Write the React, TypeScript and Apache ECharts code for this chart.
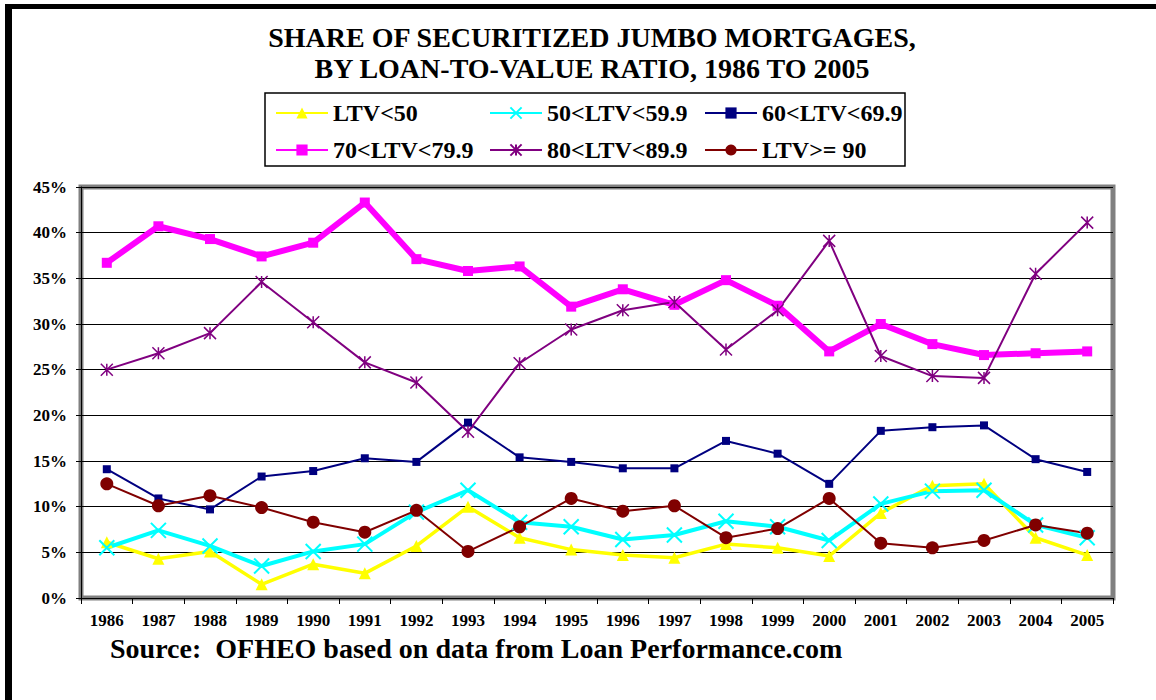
import React, { useEffect, useRef } from "react";
import * as echarts from "echarts";

const years = ["1986","1987","1988","1989","1990","1991","1992","1993","1994","1995","1996","1997","1998","1999","2000","2001","2002","2003","2004","2005"];

const ltvUnder50 = [6.1,4.3,5.1,1.5,3.7,2.7,5.7,10.0,6.6,5.3,4.7,4.4,5.9,5.5,4.6,9.3,12.3,12.5,6.6,4.7];
const ltv50to59 = [5.5,7.4,5.7,3.5,5.1,5.9,9.4,11.8,8.3,7.8,6.4,6.9,8.4,7.8,6.3,10.3,11.7,11.8,8.0,6.6];
const ltv60to69 = [14.1,10.9,9.7,13.3,13.9,15.3,14.9,19.2,15.4,14.9,14.2,14.2,17.2,15.8,12.5,18.3,18.7,18.9,15.2,13.8];
const ltv70to79 = [36.7,40.7,39.3,37.4,38.9,43.3,37.1,35.8,36.3,31.9,33.8,32.1,34.8,32.0,27.0,30.0,27.8,26.6,26.8,27.0];
const ltv80to89 = [25.0,26.8,29.0,34.6,30.2,25.8,23.6,18.2,25.7,29.4,31.5,32.4,27.2,31.5,39.1,26.5,24.3,24.1,35.5,41.1];
const ltv90plus = [12.5,10.1,11.2,9.9,8.3,7.2,9.6,5.1,7.8,10.9,9.5,10.1,6.6,7.6,10.9,6.0,5.5,6.3,8.0,7.1];

const seriesNames = ["LTV<50", "50<LTV<59.9", "60<LTV<69.9", "70<LTV<79.9", "80<LTV<89.9", "LTV>= 90"];
const yTicks = [0, 5, 10, 15, 20, 25, 30, 35, 40, 45];

const titleLines = ["SHARE OF SECURITIZED JUMBO MORTGAGES,", "BY LOAN-TO-VALUE RATIO, 1986 TO 2005"];
const sourceText = "Source:  OFHEO based on data from Loan Performance.com";

const SERIF = "'Times New Roman', 'Liberation Serif', serif";
const CROSS = "path://M0,0L10,10M10,0L0,10";
const STAR = "path://M0,0L10,10M10,0L0,10M5,0L5,10";

export default function App() {
  const ref = useRef<HTMLDivElement>(null);
  useEffect(() => {
    if (!ref.current) return;
    const chart = echarts.init(ref.current, null, { renderer: "svg" });

    const legendPos = [
      { left: 275, top: 101 },
      { left: 489, top: 101 },
      { left: 704, top: 101 },
      { left: 275, top: 138 },
      { left: 489, top: 138 },
      { left: 704, top: 138 },
    ];

    const option: any = {
      animation: false,
      backgroundColor: "#ffffff",
      legend: seriesNames.map((n, i) => ({
        data: [n],
        left: legendPos[i].left,
        top: legendPos[i].top,
        padding: 0,
        itemWidth: 52,
        itemHeight: 14,
        selectedMode: false,
        textStyle: { fontFamily: SERIF, fontWeight: "bold", fontSize: 24, color: "#000" },
      })),
      graphic: [
        { type: "rect", shape: { x: 5, y: 4, width: 1151, height: 5 }, style: { fill: "#000" } },
        { type: "rect", shape: { x: 5, y: 4, width: 7, height: 696 }, style: { fill: "#000" } },
        { type: "rect", z: -1, shape: { x: 265, y: 93, width: 640, height: 73 }, style: { fill: "#fff", stroke: "#000", lineWidth: 1.5 } },
        { type: "text", x: 592, y: 37, style: { text: titleLines[0], fontFamily: SERIF, fontWeight: "bold", fontSize: 28, fill: "#000", textAlign: "center", textVerticalAlign: "middle" } },
        { type: "text", x: 592, y: 68, style: { text: titleLines[1], fontFamily: SERIF, fontWeight: "bold", fontSize: 28, fill: "#000", textAlign: "center", textVerticalAlign: "middle" } },
        { type: "text", x: 110, y: 648, style: { text: sourceText, fontFamily: SERIF, fontWeight: "bold", fontSize: 28, fill: "#000", textAlign: "left", textVerticalAlign: "middle" } },
      ],
      grid: {
        left: 81, top: 187, right: 43, bottom: 102,
        show: true, borderColor: "#808080", borderWidth: 5, backgroundColor: "#fff",
        outerBoundsMode: "none",
      },
      xAxis: {
        type: "category",
        data: years,
        boundaryGap: true,
        axisLine: { show: true, lineStyle: { color: "#000", width: 1 } },
        axisTick: { show: true, inside: false, length: 6, alignWithLabel: false, lineStyle: { color: "#000" } },
        axisLabel: { margin: 14, fontFamily: SERIF, fontWeight: "bold", fontSize: 17, color: "#000", interval: 0 },
        splitLine: { show: false },
      },
      yAxis: {
        type: "value",
        min: 0, max: 45, interval: 5,
        axisLine: { show: true, lineStyle: { color: "#000", width: 1 } },
        axisTick: { show: true, inside: false, length: 5, lineStyle: { color: "#000" } },
        axisLabel: { margin: 14, fontFamily: SERIF, fontWeight: "bold", fontSize: 17, color: "#000", formatter: (v: number) => (yTicks.includes(v) ? v + "%" : "") },
        splitLine: { show: true, lineStyle: { color: "#000", width: 1 } },
      },
      series: [
        {
          name: seriesNames[0], type: "line", data: ltvUnder50,
          symbol: "triangle", symbolSize: 12,
          itemStyle: { color: "#FFFF00" }, lineStyle: { color: "#FFFF00", width: 3.5 },
        },
        {
          name: seriesNames[1], type: "line", data: ltv50to59,
          symbol: CROSS, symbolSize: 15,
          itemStyle: { color: "#00FFFF", borderColor: "#00FFFF", borderWidth: 2 }, lineStyle: { color: "#00FFFF", width: 4 },
        },
        {
          name: seriesNames[2], type: "line", data: ltv60to69,
          symbol: "rect", symbolSize: 8,
          itemStyle: { color: "#000080" }, lineStyle: { color: "#000080", width: 2 },
        },
        {
          name: seriesNames[3], type: "line", data: ltv70to79,
          symbol: "rect", symbolSize: 10,
          itemStyle: { color: "#FF00FF" }, lineStyle: { color: "#FF00FF", width: 6 },
        },
        {
          name: seriesNames[4], type: "line", data: ltv80to89,
          symbol: STAR, symbolSize: 12,
          itemStyle: { color: "#800080", borderColor: "#800080", borderWidth: 1.5 }, lineStyle: { color: "#800080", width: 2 },
        },
        {
          name: seriesNames[5], type: "line", data: ltv90plus,
          symbol: "circle", symbolSize: 13,
          itemStyle: { color: "#800000" }, lineStyle: { color: "#800000", width: 2 },
        },
      ],
    };
    chart.setOption(option);
    return () => chart.dispose();
  }, []);

  return <div ref={ref} style={{ position: "fixed", left: 0, top: 0, width: 1156, height: 700, background: "#fff" }} />;
}
